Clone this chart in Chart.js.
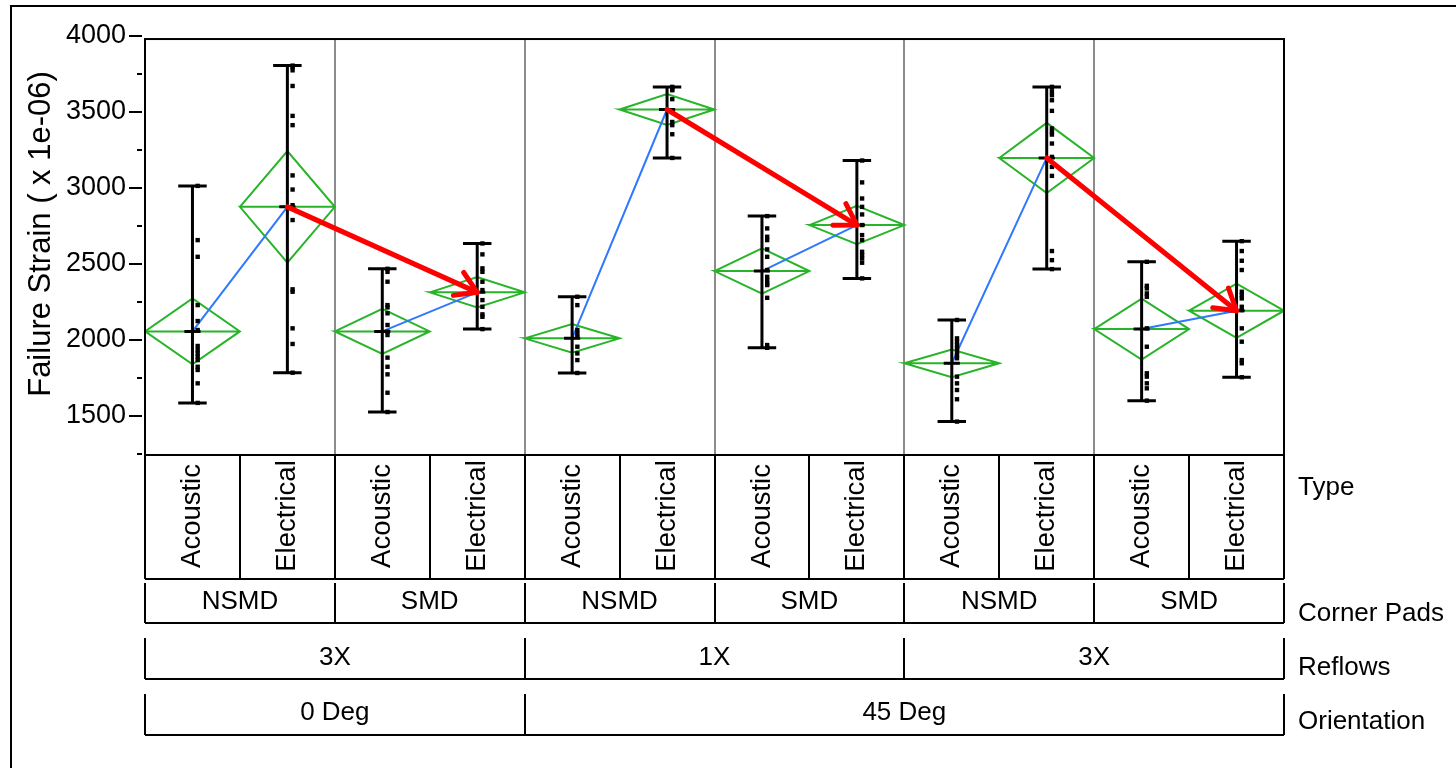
<!DOCTYPE html>
<html>
<head>
<meta charset="utf-8">
<script src="https://cdn.jsdelivr.net/npm/chart.js@4.4.1/dist/chart.umd.min.js"></script>
<style>
  html, body { margin: 0; padding: 0; background: #fff; }
  canvas { display: block; }
</style>
</head>
<body>
<canvas id="variabilityChart" width="1456" height="768"></canvas>
<script>
'use strict'

// categories (one column per Type cell, left to right)
const typeLabels = ['Acoustic', 'Electrical', 'Acoustic', 'Electrical', 'Acoustic', 'Electrical',
                    'Acoustic', 'Electrical', 'Acoustic', 'Electrical', 'Acoustic', 'Electrical'];
const cornerPads = ['NSMD', 'SMD', 'NSMD', 'SMD', 'NSMD', 'SMD'];
const reflows = ['3X', '1X', '3X'];
const orientation = ['0 Deg', '45 Deg'];
const orientationSpan = [4, 8];

// y axis
const yTicks = [1500, 2000, 2500, 3000, 3500, 4000];
const yMinorTicks = [1250, 1750, 2250, 2750, 3250, 3750];

// group means, half height of the mean diamonds, range of each group
const means = [2055, 2875, 2055, 2312, 2009, 3516, 2452, 2755, 1845, 3197, 2070, 2191];
const ciHalf = [217, 367, 148, 100, 95, 101, 149, 126, 91, 231, 200, 179];
const rangeLo = [1584, 1783, 1524, 2070, 1781, 3197, 1947, 2404, 1461, 2465, 1599, 1753];
const rangeHi = [3013, 3805, 2467, 2634, 2283, 3665, 2814, 3180, 2130, 3665, 2513, 2649];

// single measurements
const g1 = [3013, 2656, 2546, 2228, 2123, 2064, 1959, 1932, 1910, 1888, 1866, 1822, 1801, 1713, 1584];
const g2 = [3805, 3796, 3774, 3671, 3474, 3413, 3082, 2989, 2886, 2788, 2332, 2316, 2075, 1972, 1783];
const g3 = [2467, 2447, 2382, 2228, 2213, 2174, 2097, 2053, 2031, 1882, 1822, 1772, 1651, 1524];
const g4 = [2634, 2562, 2470, 2447, 2382, 2327, 2261, 2217, 2167, 2151, 2070];
const g5 = [2283, 2228, 2064, 2042, 2020, 1954, 1910, 1866, 1781];
const g6 = [3665, 3650, 3643, 3584, 3434, 3413, 3353, 3197];
const g7 = [2814, 2733, 2678, 2656, 2595, 2546, 2459, 2414, 2393, 2371, 2360, 2276, 1965, 1947];
const g8 = [3180, 3036, 2930, 2875, 2825, 2755, 2689, 2656, 2579, 2557, 2535, 2507, 2404];
const g9 = [2130, 2009, 1987, 1965, 1943, 1921, 1899, 1878, 1757, 1713, 1669, 1608, 1461];
const g10 = [3665, 3636, 3610, 3577, 3507, 3391, 3368, 3351, 3292, 3204, 3138, 3079, 2584, 2524, 2465];
const g11 = [2513, 2355, 2338, 2305, 2283, 2075, 1954, 1779, 1757, 1713, 1680, 1599];
const g12 = [2649, 2584, 2520, 2459, 2316, 2294, 2272, 2217, 2195, 2075, 1987, 1866, 1845, 1753];
const groups = [g1, g2, g3, g4, g5, g6, g7, g8, g9, g10, g11, g12];

// blue: Acoustic -> Electrical mean, red arrows: NSMD Electrical -> SMD Electrical
const meanLinks = [[0, 1], [2, 3], [4, 5], [6, 7], [8, 9], [10, 11]];
const arrows = [[1, 3], [5, 7], [9, 11]];

const FONT = '"Liberation Sans", Arial, sans-serif';
const Y_MIN = 1241;
const Y_MAX = 4000;
const FRAME_TOP = 3980;
const CAP = 0.15;       // half width of whisker caps (in group units)
const TICK = 0.085;     // half width of the mean tick
const JITTER = 0.055;   // points sit a little right of the whisker

// build datasets
const pointData = [];
groups.forEach((vals, i) => {
  vals.forEach(v => pointData.push({ x: i + 0.5 + JITTER, y: v }));
});

const whiskerData = [];
const meanTickData = [];
const diamondData = [];
means.forEach((m, i) => {
  const c = i + 0.5;
  whiskerData.push({ x: c, y: rangeLo[i] }, { x: c, y: rangeHi[i] }, { x: c, y: null });
  whiskerData.push({ x: c - CAP, y: rangeHi[i] }, { x: c + CAP, y: rangeHi[i] }, { x: c, y: null });
  whiskerData.push({ x: c - CAP, y: rangeLo[i] }, { x: c + CAP, y: rangeLo[i] }, { x: c, y: null });
  meanTickData.push({ x: c - TICK, y: m }, { x: c + TICK, y: m }, { x: c, y: null });
  const h = ciHalf[i];
  diamondData.push(
    { x: i, y: m }, { x: c, y: m + h }, { x: i + 1, y: m }, { x: c, y: m - h }, { x: i, y: m },
    { x: i + 1, y: m }, { x: c, y: null }
  );
});

const linkData = [];
meanLinks.forEach(([a, b]) => {
  linkData.push({ x: a + 0.5, y: means[a] }, { x: b + 0.5, y: means[b] }, { x: b, y: null });
});

const lineDefaults = { showLine: true, pointRadius: 0, pointHoverRadius: 0, borderCapStyle: 'butt' };

// frame, separators, arrows, axis ticks, category table
const variabilityFrame = {
  id: 'variabilityFrame',
  beforeDatasetsDraw(chart) {
    const { ctx, scales: { x, y } } = chart;
    const top = y.getPixelForValue(FRAME_TOP);
    const bottom = chart.chartArea.bottom;
    ctx.save();
    ctx.strokeStyle = '#8c8c8c';
    ctx.lineWidth = 2;
    for (let i = 2; i < typeLabels.length; i += 2) {
      const px = Math.round(x.getPixelForValue(i));
      ctx.beginPath();
      ctx.moveTo(px, top);
      ctx.lineTo(px, bottom);
      ctx.stroke();
    }
    ctx.restore();
  },
  afterDatasetsDraw(chart) {
    const { ctx, scales: { x, y } } = chart;
    ctx.save();
    ctx.strokeStyle = '#ff0000';
    ctx.lineWidth = 5;
    ctx.lineCap = 'round';
    ctx.lineJoin = 'round';
    arrows.forEach(([a, b]) => {
      const x0 = x.getPixelForValue(a + 0.5), y0 = y.getPixelForValue(means[a]);
      const x1 = x.getPixelForValue(b + 0.5), y1 = y.getPixelForValue(means[b]);
      const ang = Math.atan2(y1 - y0, x1 - x0);
      ctx.beginPath();
      ctx.moveTo(x0, y0);
      ctx.lineTo(x1, y1);
      ctx.stroke();
      ctx.beginPath();
      ctx.moveTo(x1 - 24 * Math.cos(ang - 0.55), y1 - 24 * Math.sin(ang - 0.55));
      ctx.lineTo(x1, y1);
      ctx.lineTo(x1 - 24 * Math.cos(ang + 0.55), y1 - 24 * Math.sin(ang + 0.55));
      ctx.stroke();
    });
    ctx.restore();
  },
  afterDraw(chart) {
    const { ctx, chartArea: area, scales: { x, y } } = chart;
    const top = y.getPixelForValue(FRAME_TOP);
    const left = x.getPixelForValue(0);
    const right = x.getPixelForValue(typeLabels.length);
    ctx.save();
    ctx.strokeStyle = '#000';
    ctx.fillStyle = '#000';
    ctx.lineWidth = 2;

    // plot frame
    ctx.strokeRect(left, top, right - left, area.bottom - top);

    // y ticks
    yTicks.forEach(v => {
      const py = Math.round(y.getPixelForValue(v));
      ctx.beginPath(); ctx.moveTo(129, py); ctx.lineTo(142, py); ctx.stroke();
    });
    yMinorTicks.forEach(v => {
      const py = Math.round(y.getPixelForValue(v));
      ctx.beginPath(); ctx.moveTo(137, py); ctx.lineTo(142, py); ctx.stroke();
    });
    // x ticks
    for (let i = 0; i <= typeLabels.length; i++) {
      const px = Math.round(x.getPixelForValue(i));
      ctx.beginPath(); ctx.moveTo(px, area.bottom); ctx.lineTo(px, area.bottom + 5); ctx.stroke();
    }

    // category table under the plot
    const rows = [
      { labels: typeLabels, spans: typeLabels.map(() => 1), top: 457, bottom: 579, textY: 516, rotate: true, name: 'Type', nameY: 488 },
      { labels: cornerPads, spans: cornerPads.map(() => 2), top: 583, bottom: 623, textY: 602, name: 'Corner Pads', nameY: 614 },
      { labels: reflows, spans: reflows.map(() => 4), top: 638, bottom: 679, textY: 658, name: 'Reflows', nameY: 668 },
      { labels: orientation, spans: orientationSpan, top: 694, bottom: 735, textY: 713, name: 'Orientation', nameY: 722 },
    ];
    rows.forEach(row => {
      let start = 0;
      row.labels.forEach((label, k) => {
        const end = start + row.spans[k];
        const xa = Math.round(x.getPixelForValue(start));
        ctx.beginPath(); ctx.moveTo(xa, row.top); ctx.lineTo(xa, row.bottom); ctx.stroke();
        const cx = x.getPixelForValue((start + end) / 2);
        ctx.save();
        ctx.translate(cx, row.textY);
        if (row.rotate) ctx.rotate(-Math.PI / 2);
        ctx.font = (row.rotate ? '27.5px ' : '26px ') + FONT;
        ctx.textAlign = 'center';
        ctx.textBaseline = 'middle';
        ctx.fillText(label, 0, 0);
        ctx.restore();
        start = end;
      });
      const xe = Math.round(x.getPixelForValue(start));
      ctx.beginPath(); ctx.moveTo(xe, row.top); ctx.lineTo(xe, row.bottom); ctx.stroke();
      ctx.beginPath(); ctx.moveTo(left, row.bottom); ctx.lineTo(xe, row.bottom); ctx.stroke();
      ctx.font = '26px ' + FONT;
      ctx.textAlign = 'left';
      ctx.textBaseline = 'middle';
      ctx.fillText(row.name, 1298, row.nameY);
    });

    // y axis title
    ctx.save();
    ctx.translate(41, 234);
    ctx.rotate(-Math.PI / 2);
    ctx.font = '31px ' + FONT;
    ctx.textAlign = 'center';
    ctx.textBaseline = 'middle';
    ctx.fillText('Failure Strain ( x 1e-06)', 0, 0);
    ctx.restore();

    // outer border
    ctx.beginPath();
    ctx.moveTo(11, chart.height);
    ctx.lineTo(11, 6);
    ctx.lineTo(chart.width, 6);
    ctx.stroke();
    ctx.restore();
  }
};

Chart.defaults.font.family = FONT;
Chart.defaults.color = '#000';

new Chart(document.getElementById('variabilityChart'), {
  type: 'scatter',
  data: {
    datasets: [
      { ...lineDefaults, data: diamondData, borderColor: '#28b428', borderWidth: 2, borderJoinStyle: 'miter', order: 5 },
      { ...lineDefaults, data: linkData, borderColor: '#2f78ff', borderWidth: 2, order: 4 },
      { ...lineDefaults, data: whiskerData, borderColor: '#000', borderWidth: 3, order: 3 },
      { ...lineDefaults, data: meanTickData, borderColor: '#000', borderWidth: 3, order: 2 },
      {
        data: pointData, showLine: false, pointStyle: 'rect', pointRadius: 3.1, pointHoverRadius: 3.1,
        pointBorderWidth: 0, pointBackgroundColor: '#000', borderColor: '#000', backgroundColor: '#000', order: 1
      },
    ]
  },
  options: {
    responsive: false,
    animation: false,
    events: [],
    layout: { padding: { left: 0, top: 36, right: 172, bottom: 313 } },
    plugins: { legend: { display: false }, tooltip: { enabled: false } },
    scales: {
      x: { type: 'linear', min: 0, max: typeLabels.length, display: false },
      y: {
        type: 'linear',
        min: Y_MIN,
        max: Y_MAX,
        afterBuildTicks: scale => { scale.ticks = yTicks.map(v => ({ value: v })); },
        afterFit: scale => { scale.width = 145; },
        grid: { display: false, drawTicks: false },
        border: { display: false },
        ticks: { padding: 19, font: { size: 27 }, color: '#000', callback: value => String(value) }
      }
    }
  },
  plugins: [variabilityFrame]
});
</script>
</body>
</html>
